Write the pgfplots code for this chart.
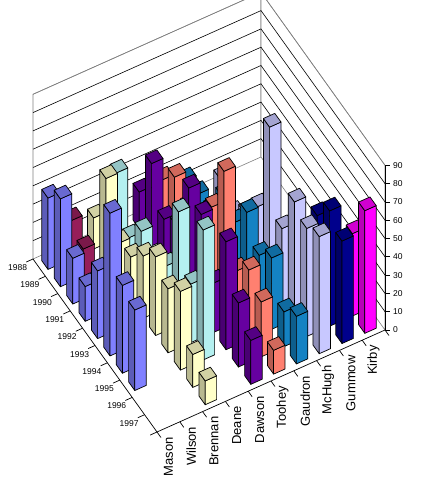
\documentclass[border=0pt]{standalone}
\usepackage{fontspec}
\setmainfont{Liberation Sans}
\usepackage{pgfplots}
\usepackage{pgfplotstable}
\pgfplotsset{compat=1.18}

\definecolor{cMason}{RGB}{128,128,255}
\definecolor{cWilson}{RGB}{150,30,90}
\definecolor{cBrennan}{RGB}{255,255,200}
\definecolor{cDeane}{RGB}{180,240,240}
\definecolor{cDawson}{RGB}{102,0,160}
\definecolor{cToohey}{RGB}{255,128,112}
\definecolor{cGaudron}{RGB}{20,130,195}
\definecolor{cMcHugh}{RGB}{200,200,255}
\definecolor{cGummow}{RGB}{0,0,140}
\definecolor{cKirby}{RGB}{255,0,255}

\tikzset{
  yfont/.style={anchor=east, inner sep=0pt, font=\fontsize{8.5}{10}\selectfont},
  judgelab/.style={rotate=90, anchor=east, inner sep=0pt, font=\fontsize{13}{15}\selectfont},
}

\pgfplotstableread{
year value
1988 39
1989 48
1990 25
1991 19
1992 37
1993 78
1994 48
1995 44
}\tMason
\pgfplotstableread{
year value
1988 21
1989 15
}\tWilson
\pgfplotstableread{
year value
1988 17
1989 48
1990 22
1991 24
1992 34
1993 43
1994 35
1995 43
1996 18
1997 13
}\tBrennan
\pgfplotstableread{
year value
1988 36
1989 10
1990 23
1991 15
1992 23
1993 62
1994 32
1995 71
}\tDeane
\pgfplotstableread{
year value
1988 20
1989 45
1990 24
1991 30
1992 60
1993 55
1994 27
1995 59
1996 35
1997 24
}\tDawson
\pgfplotstableread{
year value
1988 21
1989 32
1990 25
1991 30
1992 44
1993 73
1994 28
1995 38
1996 30
1997 13
}\tToohey
\pgfplotstableread{
year value
1988 15
1989 17
1990 18
1991 35
1992 30
1993 45
1994 31
1995 39
1996 19
1997 26
}\tGaudron
\pgfplotstableread{
year value
1989 20
1990 10
1991 20
1992 33
1993 86
1994 40
1995 64
1996 59
1997 64
}\tMcHugh
\pgfplotstableread{
year value
1995 51
1996 63
1997 56
}\tGummow
\pgfplotstableread{
year value
1996 45
1997 67
}\tKirby

% #1 table, #2 judge position, #3 colour
\newcommand\drawseries[3]{%
  \pgfplotstablegetrowsof{#1}%
  \pgfmathtruncatemacro\nlast{\pgfplotsretval-1}%
  \pgfplotsforeachungrouped \r in {0,...,\nlast}{%
    \pgfplotstablegetelem{\r}{year}\of#1\let\yr\pgfplotsretval
    \pgfplotstablegetelem{\r}{value}\of#1\let\vv\pgfplotsretval
    \pgfmathsetmacro\ya{\yr-1988-0.25}%
    \pgfmathsetmacro\yb{\yr-1988+0.25}%
    \pgfmathsetmacro\xa{#2-0.25}%
    \pgfmathsetmacro\xb{#2+0.25}%
    \edef\temp{%
      \noexpand\addplot3[draw=black, line width=0.7pt, line join=round, fill=#3!72!black]
        coordinates {(\xa,\ya,0) (\xa,\yb,0) (\xa,\yb,\vv) (\xa,\ya,\vv)} -- cycle;
      \noexpand\addplot3[draw=black, line width=0.7pt, line join=round, fill=#3]
        coordinates {(\xa,\yb,0) (\xb,\yb,0) (\xb,\yb,\vv) (\xa,\yb,\vv)} -- cycle;
      \noexpand\addplot3[draw=black, line width=0.7pt, line join=round, fill=#3!82!black]
        coordinates {(\xa,\ya,\vv) (\xa,\yb,\vv) (\xb,\yb,\vv) (\xb,\ya,\vv)} -- cycle;
    }\temp
  }%
}

\begin{document}
\begin{tikzpicture}
\begin{axis}[
  x={(22.8pt,10.2pt)}, y={(12.4pt,-17.3pt)}, z={(0pt,1.83pt)},
  xmin=-0.5, xmax=9.5, ymin=-0.5, ymax=9.5, zmin=0, zmax=90,
  hide axis, clip=false,
]
% walls
\addplot3[draw=gray, fill=white, line width=0.6pt]
  coordinates {(-0.5,-0.5,0) (9.5,-0.5,0) (9.5,-0.5,90) (-0.5,-0.5,90)} -- cycle;
\addplot3[draw=gray, fill=white, line width=0.6pt]
  coordinates {(9.5,-0.5,0) (9.5,9.5,0) (9.5,9.5,90) (9.5,-0.5,90)} -- cycle;
\pgfplotsinvokeforeach{10,20,30,40,50,60,70,80}{
  \addplot3[black, line width=0.6pt] coordinates {(-0.5,-0.5,#1) (9.5,-0.5,#1) (9.5,9.5,#1)};
}
\addplot3[gray, line width=0.6pt] coordinates {(-0.5,-0.5,90) (9.5,-0.5,90) (9.5,9.5,90)};
% floor edges and z axis
\addplot3[black, line width=0.7pt] coordinates {(-0.5,-0.5,0) (-0.5,9.5,0) (9.5,9.5,0)};
\addplot3[black, line width=0.7pt] coordinates {(9.5,9.5,0) (9.5,9.5,90)};
\pgfplotsinvokeforeach{0,10,20,30,40,50,60,70,80,90}{
  \draw[black, line width=0.7pt] (axis cs:9.5,9.5,#1) -- ++(5pt,0pt);
  \node[anchor=west, font=\fontsize{8.5}{10}\selectfont, inner sep=0pt] at ([xshift=8pt]axis cs:9.5,9.5,#1) {#1};
}
\pgfplotsinvokeforeach{-0.5,0.5,1.5,2.5,3.5,4.5,5.5,6.5,7.5,8.5,9.5}{
  \draw[black, line width=0.7pt] (axis cs:-0.5,#1,0) -- (axis cs:-0.8,#1,0);
  \draw[black, line width=0.7pt] (axis cs:#1,9.5,0) -- (axis cs:#1,9.82,0);
}
% bars, from the back to the front
\drawseries{\tKirby}{9}{cKirby}
\drawseries{\tGummow}{8}{cGummow}
\drawseries{\tMcHugh}{7}{cMcHugh}
\drawseries{\tGaudron}{6}{cGaudron}
\drawseries{\tToohey}{5}{cToohey}
\drawseries{\tDawson}{4}{cDawson}
\drawseries{\tDeane}{3}{cDeane}
\drawseries{\tBrennan}{2}{cBrennan}
\drawseries{\tWilson}{1}{cWilson}
\drawseries{\tMason}{0}{cMason}
% year labels
\node[yfont] at ([xshift=-12pt]axis cs:-0.5,0,0) {1988};
\node[yfont] at ([xshift=-12pt]axis cs:-0.5,1,0) {1989};
\node[yfont] at ([xshift=-12pt]axis cs:-0.5,2,0) {1990};
\node[yfont] at ([xshift=-12pt]axis cs:-0.5,3,0) {1991};
\node[yfont] at ([xshift=-12pt]axis cs:-0.5,4,0) {1992};
\node[yfont] at ([xshift=-12pt]axis cs:-0.5,5,0) {1993};
\node[yfont] at ([xshift=-12pt]axis cs:-0.5,6,0) {1994};
\node[yfont] at ([xshift=-12pt]axis cs:-0.5,7,0) {1995};
\node[yfont] at ([xshift=-12pt]axis cs:-0.5,8,0) {1996};
\node[yfont] at ([xshift=-12pt]axis cs:-0.5,9,0) {1997};
% judge labels
\node[judgelab] at ([yshift=-10pt]axis cs:0,9.5,0) {Mason};
\node[judgelab] at ([yshift=-10pt]axis cs:1,9.5,0) {Wilson};
\node[judgelab] at ([yshift=-10pt]axis cs:2,9.5,0) {Brennan};
\node[judgelab] at ([yshift=-10pt]axis cs:3,9.5,0) {Deane};
\node[judgelab] at ([yshift=-10pt]axis cs:4,9.5,0) {Dawson};
\node[judgelab] at ([yshift=-10pt]axis cs:5,9.5,0) {Toohey};
\node[judgelab] at ([yshift=-10pt]axis cs:6,9.5,0) {Gaudron};
\node[judgelab] at ([yshift=-10pt]axis cs:7,9.5,0) {McHugh};
\node[judgelab] at ([yshift=-10pt]axis cs:8,9.5,0) {Gummow};
\node[judgelab] at ([yshift=-10pt]axis cs:9,9.5,0) {Kirby};
\coordinate (F) at (axis cs:-0.5,9.5,0);
\end{axis}
\pgfresetboundingbox
\path (F) ++(-157pt,-61pt) rectangle ++(435pt,493pt);
\end{tikzpicture}
\end{document}
